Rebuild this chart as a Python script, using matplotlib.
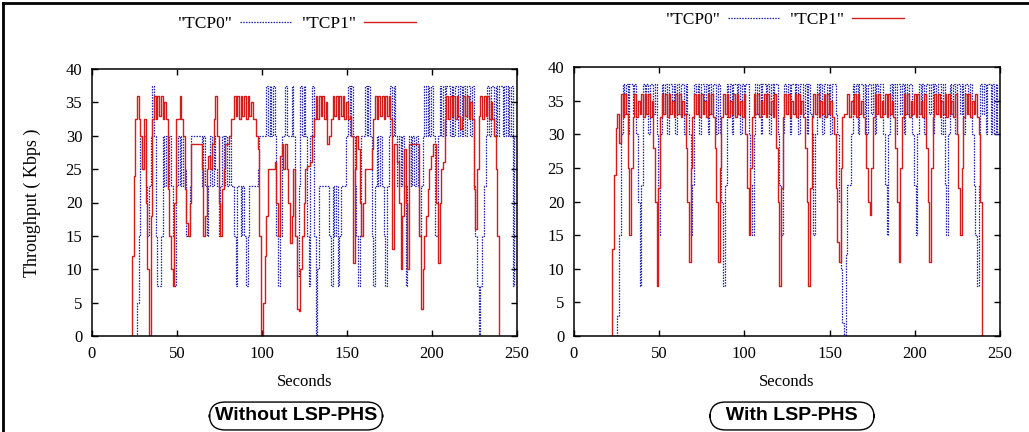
import numpy as np
import matplotlib.pyplot as plt
from matplotlib.lines import Line2D

plt.rcParams['font.family'] = ['Liberation Serif', 'DejaVu Serif']

# ---- data: throughput (Kbps) sampled every second ----
# left panel: without LSP-PHS
left_tcp0_start = 26
left_tcp0 = [
    0, 5, 15, 30, 25,
    30, 22.5, 15, 22.5, 30, 37.5, 30, 15, 7.5, 7.5,
    15, 30, 22.5, 30, 22.5, 30, 22.5, 15, 7.5, 22.5,
    30, 22.5, 30, 22.5, 25, 15, 15, 22.5, 30, 30,
    30, 30, 30, 30, 22.5, 30, 22.5, 15, 22.5, 30,
    22.5, 30, 25, 22.5, 15, 22.5, 30, 22.5, 30, 22.5,
    30, 22.5, 22.5, 15, 7.5, 22.5, 22.5, 15, 22.5, 15,
    7.5, 15, 22.5, 22.5, 22.5, 22.5, 22.5, 25, 30, 30,
    30, 30, 37.5, 30, 37.5, 30, 37.5, 30, 15, 7.5,
    15, 30, 30, 37.5, 30, 30, 30, 37.5, 30, 15,
    9, 22.5, 37.5, 30, 37.5, 30, 15, 7.5, 30, 37.5,
    15, 0, 10, 22.5, 22.5, 22.5, 22.5, 22.5, 22.5, 15,
    7.5, 22.5, 15, 22.5, 7.5, 15, 22.5, 22.5, 22.5, 30,
    37.5, 30, 37.5, 30, 22.5, 15, 7.5, 15, 30, 30,
    37.5, 30, 37.5, 30, 15, 7.5, 22.5, 30, 22.5, 30,
    22.5, 15, 7.5, 22.5, 30, 37.5, 30, 37.5, 30, 22.5,
    30, 22.5, 30, 22.5, 7.5, 22.5, 30, 22.5, 30, 22.5,
    30, 22.5, 15, 22.5, 30, 37.5, 30, 37.5, 30, 37.5,
    30, 15, 15, 30, 37.5, 30, 37.5, 30, 37.5, 37.5,
    30, 37.5, 30, 37.5, 37.5, 30, 37.5, 30, 37.5, 30,
    37.5, 37.5, 30, 37.5, 22.5, 15, 7.5, 0, 7.5, 15,
    22.5, 30, 37.5, 30, 37.5, 37.5, 30, 37.5, 30, 37.5,
    37.5, 30, 37.5, 30, 37.5, 30, 37.5, 7.5, 30, 30,
]
left_tcp1_start = 23
left_tcp1 = [
    0, 12, 24, 32.5, 36, 32.5, 30, 25,
    32.5, 20, 10, 0, 18, 32.5, 36, 32.5, 36, 33,
    36, 32.5, 35, 32.5, 22, 15, 10, 7.5, 20, 32.5,
    32.5, 36, 32.5, 30, 22, 17, 15, 20, 28.7, 28.7,
    28.7, 28.7, 28.7, 28.7, 25, 15, 18, 25, 27, 25,
    28.7, 32.5, 36, 30, 20, 15, 22, 25, 28.7, 28.7,
    30, 32.5, 32.5, 36, 33, 36, 32.5, 36, 33, 36,
    32.5, 36, 33, 35, 32.5, 32.5, 30, 28, 15, 0,
    5, 12, 18, 25, 25, 25, 25, 26, 20, 15,
    27, 28.7, 25, 28.7, 25, 20, 14, 18, 25, 15,
    4, 3.7, 10, 15, 20, 25, 25.5, 25.5, 26, 30,
    32.5, 36, 32.5, 36, 33, 36, 32.5, 35, 28.7, 30,
    32.5, 36, 33, 36, 32.5, 36, 33, 36, 32.5, 35,
    32.5, 33, 30, 11, 25, 30, 28, 20, 15, 20,
    25, 25, 25, 25, 28, 32.5, 36, 32.5, 36, 33,
    36, 32.5, 36, 33, 36, 32.5, 13, 28.7, 28.7, 26,
    20, 10, 18, 28, 20, 10, 28.7, 28.7, 28.7, 28.7,
    28.7, 28.7, 15, 4, 10, 15, 18, 22, 25, 27,
    28.7, 28.7, 20, 11, 20, 25, 26, 32.5, 36, 32.5,
    36, 33, 36, 32.5, 36, 33, 31, 32.5, 36, 33,
    36, 32.5, 35, 32.5, 22, 16, 25, 33, 36, 32.5,
    36, 33, 36, 32.5, 35, 32.5, 30, 25, 15, 0,
]

# right panel: with LSP-PHS
right_tcp0_start = 25
right_tcp0 = [
    0, 3, 15, 30, 37.5,
    33, 37.5, 30, 37.5, 37.5, 33, 37.5, 30, 20, 7.5,
    22.5, 37.5, 33, 37.5, 30, 37.5, 37.5, 33, 37.5, 30,
    15, 30, 37.5, 33, 37.5, 30, 37.5, 37.5, 33, 37.5,
    30, 37.5, 33, 37.5, 37.5, 30, 37.5, 33, 30, 15,
    22.5, 37.5, 33, 37.5, 30, 37.5, 37.5, 33, 37.5, 30,
    37.5, 33, 37.5, 37.5, 30, 37.5, 30, 20, 7.5, 22.5,
    37.5, 33, 37.5, 30, 37.5, 37.5, 33, 37.5, 30, 37.5,
    33, 37.5, 37.5, 30, 22.5, 15, 30, 37.5, 33, 37.5,
    30, 37.5, 37.5, 33, 37.5, 30, 37.5, 33, 37.5, 37.5,
    30, 22.5, 15, 30, 37.5, 33, 37.5, 30, 37.5, 37.5,
    33, 37.5, 30, 37.5, 37.5, 33, 37.5, 30, 37.5, 33,
    30, 15, 30, 37.5, 33, 37.5, 30, 37.5, 37.5, 33,
    37.5, 30, 37.5, 37.5, 33, 30, 20, 10, 2, 0,
    12, 22.5, 22.5, 30, 37.5, 33, 37.5, 30, 37.5, 37.5,
    33, 37.5, 30, 37.5, 37.5, 33, 37.5, 30, 37.5, 33,
    37.5, 37.5, 30, 22.5, 15, 30, 37.5, 33, 37.5, 30,
    37.5, 37.5, 33, 37.5, 30, 37.5, 33, 37.5, 37.5, 30,
    22.5, 15, 30, 37.5, 33, 37.5, 30, 37.5, 37.5, 33,
    37.5, 30, 37.5, 33, 37.5, 37.5, 30, 37.5, 22.5, 15,
    30, 37.5, 33, 37.5, 30, 37.5, 37.5, 33, 37.5, 30,
    37.5, 37.5, 33, 37.5, 30, 22.5, 15, 7.5, 22.5, 37.5,
    33, 37.5, 30, 37.5, 37.5, 30, 37.5, 30, 37.5, 30,
    30,
]
right_tcp1_start = 22
right_tcp1 = [
    0, 13, 24, 31, 33, 28.7, 36, 32.5, 36,
    33, 25, 15, 25, 32.5, 36, 32.5, 35, 33, 36,
    32.5, 36, 33, 36, 32.5, 35, 28, 20, 7.5, 22,
    32.5, 36, 33, 36, 32.5, 36, 33, 35, 32.5, 36,
    33, 36, 32.5, 35, 33, 28, 20, 11, 25, 32.5,
    36, 33, 36, 32.5, 36, 33, 35, 32.5, 36, 33,
    36, 32.5, 28, 20, 11, 25, 32.5, 36, 33, 36,
    32.5, 35, 33, 36, 32.5, 36, 33, 35, 32.5, 36,
    30, 22, 15, 25, 32.5, 36, 33, 36, 32.5, 35,
    33, 36, 32.5, 36, 33, 35, 32.5, 36, 28, 20,
    7.5, 22, 32.5, 36, 33, 36, 32.5, 35, 33, 36,
    32.5, 36, 33, 35, 32.5, 28, 20, 7.5, 22, 32.5,
    36, 33, 36, 32.5, 35, 33, 36, 32.5, 36, 33,
    35, 32.5, 30, 22, 14, 11, 25, 32.5, 33, 33,
    36, 32.5, 35, 33, 36, 32.5, 36, 33, 35, 32.5,
    30, 25, 20, 18, 25, 32.5, 36, 33, 36, 32.5,
    35, 33, 36, 32.5, 36, 33, 35, 32.5, 28, 20,
    11, 25, 32.5, 36, 33, 36, 32.5, 35, 33, 36,
    32.5, 36, 33, 35, 32.5, 36, 28, 20, 11, 25,
    32.5, 36, 33, 36, 32.5, 35, 33, 36, 32.5, 36,
    33, 35, 32.5, 36, 30, 22, 15, 25, 32.5, 36,
    33, 36, 32.5, 35, 33, 36, 32.5, 30, 20, 0,
]

x_ticks = [0, 50, 100, 150, 200, 250]
y_ticks = [0, 5, 10, 15, 20, 25, 30, 35, 40]
labels = ['"TCP0"', '"TCP1"']
panel_titles = ['Without LSP-PHS', '  With LSP-PHS  ']

BLUE = '#1c1ca8'
RED = '#d41c1c'

fig = plt.figure(figsize=(10.29, 4.32), dpi=100)
W, H = 1029, 432
ax1 = fig.add_axes([92 / W, 1 - 336 / H, 425 / W, 267 / H])
ax2 = fig.add_axes([574 / W, 1 - 336 / H, 426 / W, 269 / H])


def draw_panel(ax, s0, tcp0, s1, tcp1, leg_xy, title_xy, title):
    t0 = np.arange(s0, s0 + len(tcp0))
    t1 = np.arange(s1, s1 + len(tcp1))
    l0, = ax.plot(t0, tcp0, color=BLUE, lw=0.9, ls=(0, (1.2, 1.0)),
                  drawstyle='steps-mid')
    l1, = ax.plot(t1, tcp1, color=RED, lw=1.0, drawstyle='steps-mid')
    ax.set_xlim(0, 250)
    ax.set_ylim(0, 40)
    ax.set_xticks(x_ticks)
    ax.set_yticks(y_ticks)
    ax.tick_params(direction='in', top=True, right=True, length=4,
                   width=1, labelsize=12)
    ax.tick_params(axis='y', pad=7)
    ax.tick_params(axis='x', pad=7)
    for sp in ax.spines.values():
        sp.set_linewidth(1.1)
    ax.set_xlabel('Seconds', fontsize=12, labelpad=9)
    ax.legend([l0, l1], labels, ncol=2, frameon=False, markerfirst=False,
              loc='center', bbox_to_anchor=leg_xy, bbox_transform=fig.transFigure,
              fontsize=12.5, handlelength=3.0, handletextpad=0.4,
              columnspacing=0.6, borderpad=0, borderaxespad=0)
    fig.text(title_xy[0], title_xy[1], title, ha='center', va='center',
             family=['Liberation Sans', 'DejaVu Sans'], weight='bold', fontsize=14,
             bbox=dict(boxstyle='round,pad=0.28,rounding_size=0.8',
                       fc='white', ec='black', lw=1))


draw_panel(ax1, left_tcp0_start, left_tcp0, left_tcp1_start, left_tcp1,
           (297 / W, 1 - 24 / H), (296 / W, 1 - 416 / H), panel_titles[0])
draw_panel(ax2, right_tcp0_start, right_tcp0, right_tcp1_start, right_tcp1,
           (785 / W, 1 - 20 / H), (792 / W, 1 - 416 / H), panel_titles[1])
ax1.set_ylabel('Throughput ( Kbps )', fontsize=13, labelpad=18)

# outer frame (left and top edges visible in the original)
fig.add_artist(Line2D([2.5 / W, 2.5 / W], [0, 1 - 2.5 / H], color='black', lw=2))
fig.add_artist(Line2D([2.5 / W, 1], [1 - 2.5 / H, 1 - 2.5 / H], color='black', lw=2))

fig.savefig('out.png', dpi=100)
